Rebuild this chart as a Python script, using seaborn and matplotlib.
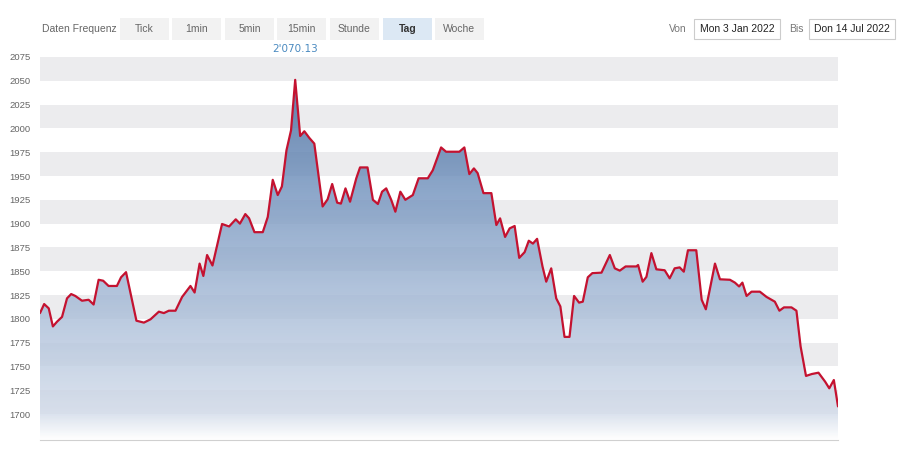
import matplotlib
matplotlib.use("Agg")
import matplotlib.pyplot as plt
import numpy as np
import pandas as pd
import seaborn as sns
from matplotlib.colors import LinearSegmentedColormap
from matplotlib.patches import Rectangle

# day offset from Mon 3 Jan 2022, price
tag = [0, 1.0, 2.1, 3.1, 4.1, 5.3, 6.5, 7.5, 8.5, 10.1, 11.7, 12.9, 14.1, 15.2, 16.5,
       18.5, 19.5, 20.7, 23.2, 25.0, 26.6, 28.6, 29.8, 31.0, 32.6, 34.2, 36.2, 37.2,
       38.4, 39.3, 40.2, 41.5, 43.8, 45.5, 47.1, 48.1, 49.4, 50.3, 51.6, 53.6, 54.8,
       56.0, 57.2, 58.2, 59.3, 60.4, 61.4, 62.6, 63.6, 64.8, 66.0, 68.0, 69.2, 70.3,
       71.5, 72.4, 73.5, 74.6, 76.1, 77.0, 78.8, 80.1, 81.3, 82.3, 83.3, 84.5, 85.5,
       86.7, 87.9, 89.7, 91.1, 93.3, 94.5, 96.5, 97.7, 100.9, 102.1, 103.3, 104.4,
       105.3, 106.7, 108.6, 109.8, 110.7, 111.9, 113.0, 114.2, 115.3, 116.6, 117.6,
       118.6, 119.6, 120.9, 121.8, 123.0, 124.2, 125.2, 126.2, 127.4, 128.5, 129.7,
       130.6, 131.8, 132.9, 135.1, 137.1, 138.3, 139.5, 140.9, 143.5, 143.9, 145.0,
       145.9, 147.1, 148.3, 150.3, 151.5, 152.7, 153.9, 154.9, 155.9, 157.9, 159.2,
       160.2, 161.3, 162.4, 163.6, 166.0, 167.2, 168.2, 169.0, 170.0, 171.2, 173.2,
       174.8, 176.8, 177.9, 179.0, 180.8, 182.0, 183.0, 184.3, 185.7, 187.3, 188.9,
       189.9, 191.0, 192.0]
kurs = [1806, 1815.5, 1811, 1792, 1797, 1802, 1821.5, 1826, 1824, 1819, 1820, 1815, 1841,
        1840, 1834.5, 1834.5, 1843.6, 1849, 1798, 1796, 1799.5, 1807.5, 1806, 1808.5,
        1808.5, 1823, 1834.5, 1827.6, 1858, 1845, 1867, 1856, 1899.6, 1897, 1904.5, 1900,
        1910, 1905.6, 1891, 1891, 1907, 1946, 1930, 1939, 1977, 1998, 2051, 1992, 1997,
        1990, 1984, 1918, 1925.5, 1941.6, 1922, 1921, 1937, 1923, 1947.6, 1959, 1959,
        1925, 1920.6, 1933.5, 1937, 1925, 1912.5, 1933.5, 1925, 1930, 1947.6, 1947.6,
        1956, 1980, 1975.5, 1975.5, 1980, 1952, 1958, 1953, 1932, 1932, 1898.5, 1905.5,
        1886, 1895, 1897.5, 1864, 1870, 1882, 1879, 1884, 1855, 1839, 1853, 1821.5, 1813,
        1781, 1781, 1824, 1817, 1818, 1843.6, 1848, 1848.5, 1867, 1853, 1850.6, 1855,
        1855, 1856.5, 1839, 1844, 1869, 1852, 1851, 1842.5, 1853, 1854, 1849.5, 1872,
        1872, 1820, 1810, 1834, 1858, 1841.5, 1841, 1838, 1834, 1838, 1824, 1828.5,
        1828.5, 1823, 1818, 1808.5, 1812, 1812, 1808.5, 1771, 1740, 1742, 1743.4, 1734,
        1727, 1735.7, 1708]

y_ticks = list(range(1700, 2076, 25))
frequenzen = ["Tick", "1min", "5min", "15min", "Stunde", "Tag", "Woche"]
aktiv = "Tag"
von_text = "Mon 3 Jan 2022"
bis_text = "Don 14 Jul 2022"
hoch_label = "2'070.13"

df = pd.DataFrame({"tag": tag, "kurs": kurs})

sns.set_style("white")
plt.rcParams["font.family"] = ["Liberation Sans", "DejaVu Sans"]

fig = plt.figure(figsize=(9, 4.5), dpi=100)
ax = fig.add_axes([40 / 900, 10 / 450, 798 / 900, 383 / 450])
ymin, ymax = 1672.7, 2075
xmin, xmax = df["tag"].min(), df["tag"].max()
ax.set_xlim(xmin, xmax)
ax.set_ylim(ymin, ymax)

# alternating gray bands
for lo in range(1700, 2075, 50):
    ax.axhspan(lo, lo + 25, color="#ececee", lw=0, zorder=0)

# gradient area under the line
cmap = LinearSegmentedColormap.from_list(
    "area", [(0.0, "#ffffff"), (0.07, "#d3dcea"), (0.35, "#a9bdd8"),
             (0.7, "#6f90bc"), (1.0, "#3d6498")])
grad = np.linspace(0, 1, 256).reshape(-1, 1)
img = ax.imshow(grad, cmap=cmap, aspect="auto", origin="lower",
                extent=[xmin, xmax, ymin, 2051], alpha=0.8, zorder=1)
poly = ax.fill_between(df["tag"], df["kurs"], ymin, facecolor="none", lw=0)
img.set_clip_path(poly.get_paths()[0], transform=ax.transData)

sns.lineplot(data=df, x="tag", y="kurs", ax=ax, color="#c41230", lw=1.6, zorder=3)

ax.set_yticks(y_ticks)
ax.set_yticklabels([str(v) for v in y_ticks], fontsize=6.8, color="#666666")
ax.tick_params(axis="y", length=0, pad=7)
ax.set_xticks([])
ax.set_xlabel("")
ax.set_ylabel("")
for s in ["top", "right", "left"]:
    ax.spines[s].set_visible(False)
ax.spines["bottom"].set_color("#d0d0d0")

# peak label
ipk = int(np.argmax(kurs))
ax.annotate(hoch_label, xy=(tag[ipk], ymax), xytext=(0, 2), textcoords="offset points",
            ha="center", va="bottom", fontsize=7.5, color="#4a8ac0",
            family=["DejaVu Sans"], annotation_clip=False)

# toolbar
fig.text(42 / 900, 1 - 29 / 450, "Daten Frequenz", fontsize=7.5, color="#666666", va="center")
bx = [120, 172, 225, 277, 330, 383, 435]
for x0, lab in zip(bx, frequenzen):
    on = lab == aktiv
    fig.patches.append(Rectangle((x0 / 900, 1 - 40 / 450), 49 / 900, 22 / 450,
                                 transform=fig.transFigure,
                                 facecolor="#dce8f4" if on else "#f2f2f2", lw=0))
    fig.text((x0 + 24.5) / 900, 1 - 29 / 450, lab, ha="center", va="center", fontsize=7.5,
             color="#333333" if on else "#666666", weight="bold" if on else "normal")

fig.text(669 / 900, 1 - 29 / 450, "Von", fontsize=7.5, color="#777777", va="center")
fig.text(789 / 900, 1 - 29 / 450, "Bis", fontsize=7.5, color="#777777", va="center")
for x0, w, lab in [(694, 86, von_text), (809, 86, bis_text)]:
    fig.patches.append(Rectangle((x0 / 900, 1 - 39 / 450), w / 900, 20 / 450,
                                 transform=fig.transFigure, facecolor="white",
                                 edgecolor="#cccccc", lw=0.8))
    fig.text((x0 + w / 2) / 900, 1 - 29 / 450, lab, ha="center", va="center",
             fontsize=7.5, color="#222222")

fig.savefig("out.png", dpi=100)
plt.close(fig)
